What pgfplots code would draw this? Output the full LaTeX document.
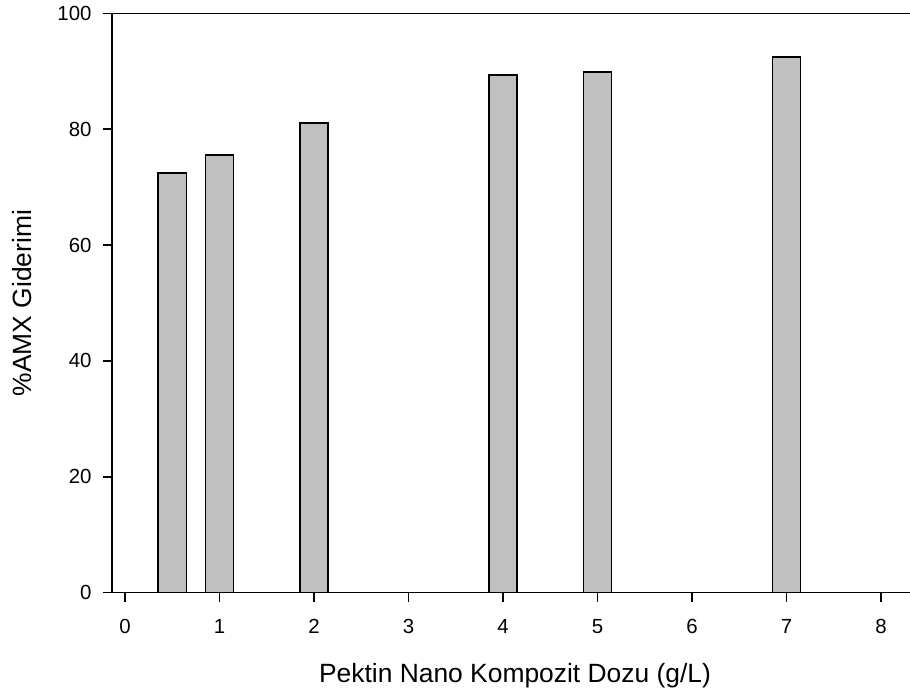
\documentclass[border=0pt]{standalone}
\usepackage{fontspec}
\setmainfont{Liberation Sans}
\usepackage{pgfplots}
\pgfplotsset{compat=1.18}
\definecolor{barfill}{RGB}{192,192,192}

\begin{document}
\begin{tikzpicture}[x=1bp,y=1bp]
% fixed page frame around the axis box
\useasboundingbox (-112,-104.3) rectangle (798,592.7);
\begin{axis}[
  at={(0,0)}, anchor=south west,
  scale only axis,
  width=798bp, height=579.4bp,
  xmin=-0.1376, xmax=8.307,
  ymin=0, ymax=100,
  axis x line*=box,
  axis y line*=left,
  axis line style={line width=1.5bp, black},
  xtick={0,1,...,8},
  ytick={0,20,...,100},
  xtick pos=bottom,
  ytick pos=left,
  tick align=outside,
  major tick length=9bp,
  tick style={line width=1.5bp, black},
  /pgf/number format/assume math mode=true,
  ticklabel style={font=\fontsize{20.5}{24}\selectfont},
  xticklabel style={yshift=-14bp},
  yticklabel style={xshift=-8bp},
  xlabel={Pektin Nano Kompozit Dozu (g/L)},
  ylabel={\%AMX Giderimi},
  label style={font=\fontsize{26.5}{30}\selectfont},
  xlabel style={at={(axis description cs:0.505,-0.1553)}, anchor=base},
  ylabel style={at={(axis description cs:-0.1003,0.5)}, anchor=base},
  ybar,
  bar width=0.3,
  bar shift=0pt,
  clip=false,
]
\addplot[draw=black, fill=barfill, line width=1.6bp] coordinates {
  (0.5,72.4) (1,75.5) (2,81.1) (4,89.4) (5,89.9) (7,92.5)
};
\end{axis}
\end{tikzpicture}
\end{document}
